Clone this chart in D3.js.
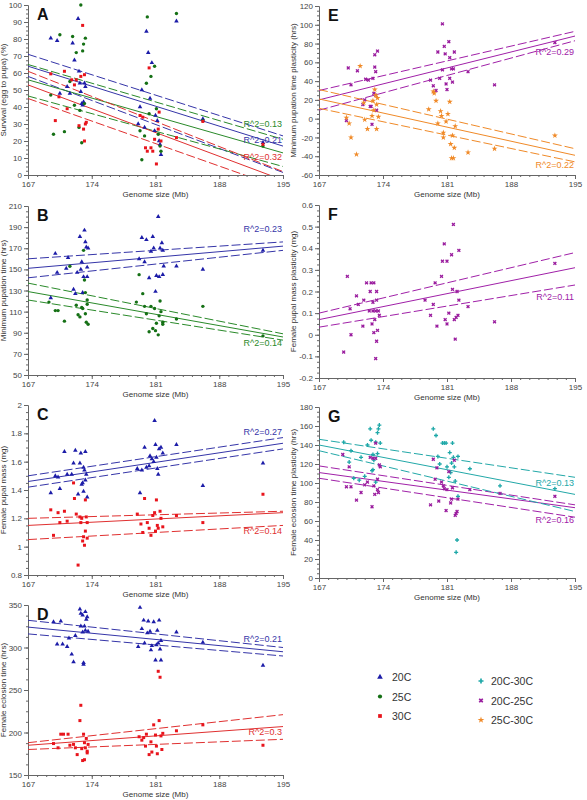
<!DOCTYPE html>
<html><head><meta charset="utf-8">
<script src="https://d3js.org/d3.v7.min.js"></script>
<style>body{margin:0;background:#fff}text{font-family:Arial,"Liberation Sans",sans-serif}</style>
</head><body><svg id="c" width="587" height="800"></svg>
<script>
const xTicks=[167,174,181,188,195];
const A_20C=[[169.5,80.5],[170.2,79],[170.5,48],[171.3,52],[171.6,48],[171.9,77.5],[172.1,67.5],[172.5,92],[172.6,61],[172.7,54],[172.8,49],[172.9,42],[173,41],[173.1,43],[173.2,54],[173.3,52],[179.1,30],[179.3,40],[179.5,50],[179.8,28],[180.0,84.5],[180.2,72],[180.4,45],[180.6,66],[180.9,26],[181.0,35],[181.2,32],[181.4,20],[181.5,18],[181.6,12],[183.3,90.5],[186.2,33],[192.8,19]];
const A_25C=[[169.5,47],[169.8,24],[170.5,82.5],[171,25.5],[171.6,55],[171.9,81.5],[172.1,41],[172.3,72],[172.6,28],[172.7,38],[172.8,100],[172.9,19],[173,73],[173.1,77],[173.3,80.5],[173.2,42],[179.3,26],[179.5,9],[179.8,23],[180.0,54],[180.1,93],[180.3,36],[180.5,58],[180.9,64],[181.1,39],[181.3,24],[181.5,17],[181.6,14],[183.3,95],[186.2,32],[192.8,17]];
const A_30C=[[169.5,59.5],[170,32],[170.4,46],[171,61],[171.3,39],[171.8,56],[172.1,53],[172.3,56],[172.6,29],[172.8,58],[173,88],[173.1,27],[173.2,20],[173.3,30],[173.4,31],[173.2,59],[179.3,35],[179.6,34],[179.9,16],[180.1,14],[180.3,63],[180.5,16],[180.7,14],[180.9,21],[181.1,6.5],[181.3,27],[181.4,37],[181.6,20],[183.3,22],[186.2,31.5],[192.8,18]];
const B_20C=[[169.5,123],[170,165],[170.2,147],[171.2,151],[171.4,161],[172,131],[172.2,127],[172.4,147],[172.7,181],[172.8,150],[172.9,157],[173,128],[173.1,143],[173.2,187],[173.3,176],[173.4,171],[173.5,152],[173.5,143],[173.6,170],[179.2,160],[179.5,180],[179.8,157],[180,178],[180.3,142],[180.5,167],[180.7,181],[180.8,170],[181,129],[181.1,144],[181.3,200],[181.4,143],[181.5,170],[181.7,175],[181.8,168],[181.9,153],[181.8,145],[183.3,153],[186.2,150],[192.8,168]];
const B_25C=[[169.3,119],[170,111],[170.3,111],[171,101],[171.6,153],[172.3,116],[172.5,107],[172.7,105],[172.9,114],[173,113],[173.1,168],[173.2,140],[173.3,108],[173.4,100],[173.6,98],[173.5,117],[173.5,121],[173.3,128],[178.9,119],[179.2,145],[179.6,127],[179.8,115],[180,108],[180.3,91],[180.5,115],[180.7,94],[180.9,113],[181,92],[181.1,99],[181.3,88],[181.4,106],[181.5,120],[181.6,110],[181.8,100],[181.8,98],[183.3,103],[186.2,115],[192.8,87]];
const C_20C=[[169.5,1.38],[170,1.50],[170.3,1.49],[170.5,1.41],[171,1.67],[171.3,1.51],[171.8,1.51],[172,1.59],[172.2,1.68],[172.5,1.37],[172.7,1.59],[172.8,1.66],[172.9,1.44],[173,1.45],[173.1,1.56],[173.1,1.39],[173.2,1.54],[173.3,1.67],[173.3,1.47],[173.4,1.51],[173.5,1.35],[179.0,1.55],[179.3,1.38],[179.5,1.54],[179.8,1.70],[180,1.56],[180.3,1.57],[180.4,1.64],[180.6,1.62],[180.8,1.60],[181,1.72],[181.1,1.63],[181.2,1.55],[181.3,1.51],[181.4,1.69],[180.9,1.89],[181.6,1.70],[181.8,1.66],[183.3,1.72],[186.2,1.43],[192.8,1.59]];
const C_30C=[[169.5,1.26],[169.8,1.08],[170.3,1.24],[170.5,1.17],[171,1.25],[171.3,1.18],[172,1.45],[172.1,1.34],[172.3,1.23],[172.5,0.87],[172.7,1.21],[172.8,1.17],[172.9,1.20],[173,1.04],[173.1,1.07],[173.2,1.01],[173.3,1.11],[173.3,1.33],[173.4,1.21],[173.5,1.17],[173.5,1.06],[179,1.23],[179.4,1.16],[179.6,1.10],[179.8,1.34],[180.1,1.17],[180.3,1.13],[180.5,1.08],[180.7,1.22],[180.9,1.24],[181,1.11],[181.1,1.33],[181.2,1.15],[181.3,1.13],[181.5,1.25],[181.6,1.20],[181.8,1.14],[183.3,1.22],[186.2,1.17],[192.8,1.37]];
const D_20C=[[169.8,330],[170.2,304],[170.6,331],[170.8,304],[171.3,301],[171.5,311],[171.8,292],[172,283],[172.2,314],[172.7,345],[172.8,325],[172.8,340],[173,338],[173,318],[173.1,280],[173.1,282],[173.2,325],[173.3,342],[173.3,320],[173.4,333],[173.5,336],[173.6,319],[179.1,301],[179.3,347],[179.5,322],[179.7,332],[179.8,305],[180.1,317],[180.2,331],[180.4,319],[180.5,297],[180.6,302],[180.8,330],[181,285],[181.1,303],[181.2,320],[181.3,305],[181.4,332],[181.5,298],[181.6,285],[181.6,308],[183.3,318],[186.2,306],[192.8,279]];
const D_30C=[[169.8,187],[170.3,182],[170.6,198],[170.9,198],[171.4,198],[171.6,185],[172,186],[172.2,182],[172.4,174],[172.7,214],[172.8,232],[172.9,181],[173,167],[173.1,198],[173.2,188],[173.2,168],[173.3,182],[173.4,193],[173.5,178],[173.5,176],[173.6,186],[179.2,195],[179.5,191],[179.7,194],[179.9,184],[180,198],[180.3,174],[180.5,189],[180.6,177],[180.8,209],[181,197],[181.1,184],[181.2,175],[181.3,272],[181.4,214],[181.5,265],[181.6,196],[181.7,180],[181.8,199],[183.3,202],[186.2,209],[192.8,185]];
const E_2025=[[170,-2],[170.2,54],[170.5,36],[171.2,51],[171.8,15],[172,20],[172.1,42],[172.4,41],[172.6,13],[172.7,13],[172.8,-6],[172.9,43],[173,27],[173.1,55],[173.1,68],[173.2,50],[173.3,9],[173.4,72],[173.2,25],[179.2,41],[179.5,35],[179.8,30],[180,71],[180.2,43],[180.5,52],[180.7,77],[180.8,69],[180.9,37],[181,31],[180.5,101],[181.2,82],[181.3,43],[181.3,65],[181.5,53],[181.6,39],[181.7,53],[181.8,71],[183.3,50],[186.2,36],[192.8,81]];
const E_2530=[[170,1],[170.3,-5],[170.5,-20],[171.1,-38],[171.5,56],[171.9,17],[172,-1],[172.3,-11],[172.8,3],[172.9,19],[173,9],[173.1,31],[173.2,25],[173.3,-11],[173.3,15],[173.5,2],[173.4,22],[179,10],[179.5,29],[179.6,27],[179.8,19],[180.0,-5],[180.3,8],[180.4,3],[180.6,-15],[180.6,-20],[180.9,-3],[181.1,5],[181.3,18],[181.4,-27],[181.5,-42],[181.6,-18],[181.7,-42],[181.8,-31],[181.9,-8],[183.3,-36],[186.2,-32],[192.8,-18]];
const F_2025=[[169.7,-0.08],[170.1,0.27],[170.4,0.12],[170.5,0.0],[171.1,0.18],[171.3,0.14],[171.8,0.04],[171.9,0.16],[172.2,0.24],[172.5,0.11],[172.6,0.2],[172.7,0.24],[172.8,0.05],[172.9,0.15],[172.9,0.11],[173,0.24],[173,0.01],[173.1,0.07],[173.2,0.11],[173.3,0.2],[173.3,0.16],[173.3,-0.03],[173.2,-0.11],[173.4,0.02],[173.5,0.11],[173.6,0.09],[178.6,0.16],[179.2,0.09],[179.5,0.14],[179.7,0.24],[179.9,0.04],[180.4,0.27],[180.5,0.34],[180.7,0.42],[180.8,0.07],[181,0.34],[181,0.05],[181.2,0.1],[181.5,0.37],[181.6,0.21],[181.7,0.51],[181.8,0.07],[181.9,-0.02],[182,0.08],[182.1,0.2],[182.2,0.09],[182.3,0.16],[182.3,0.39],[183.3,0.13],[186.2,0.06],[192.8,0.33]];
const G_2030=[[169.7,143],[170.3,122],[170.5,134],[170.8,105],[171.4,103],[171.6,127],[172.0,107],[172.3,140],[172.6,157],[172.7,145],[172.8,113],[172.9,114],[172.9,130],[173,124],[173.2,101],[173.2,143],[173.4,131],[173.4,153],[173.5,157],[173.6,161],[173.7,142],[179.5,157],[179.8,150],[180,128],[180.2,120],[180.5,142],[180.7,142],[180.9,142],[181,117],[181.2,106],[181.3,132],[181.4,111],[181.5,121],[181.6,142],[181.7,127],[181.8,117],[181.9,102],[182.2,128],[182,27],[182.1,40],[182.2,86],[183.5,115],[186.8,97],[192.8,94]];
const G_2025=[[169.6,130],[170,96],[170.3,117],[170.5,96],[171.1,82],[171.6,90],[172.0,98],[172.3,101],[172.6,127],[172.8,75],[172.9,126],[173.0,97],[173.1,88],[173.2,142],[173.2,126],[173.4,104],[173.4,93],[173.5,90],[173.6,119],[173.7,117],[179.2,77],[179.5,125],[179.7,104],[179.9,116],[180.1,81],[180.4,101],[180.6,97],[180.7,94],[180.9,71],[181,93],[181.2,112],[181.4,79],[181.5,83],[181.6,95],[181.8,124],[181.9,66],[182,68],[182.1,70],[182.2,83],[183.5,93],[186.8,89],[192.8,86]];
const A_fits={"20C":[[64,17],[71,23],[58,1.5]],"25C":[[56,13],[65,21],[46.5,5]],"30C":[[53,-3],[61,2],[45,-8]]};
const B_fits={"20C":[[151,172],[160,176],[142,168]],"25C":[[129,86],[137,89],[121,83]]};
const C_fits={"20C":[[1.46,1.73],[1.50,1.77],[1.42,1.69]],"30C":[[1.15,1.24],[1.20,1.25],[1.05,1.15]]};
const D_fits={"20C":[[324,295],[332,300],[316,290]],"30C":[[185,207],[188,221],[180,192]]};
const E_fits={"2025":[[20,88],[30,93],[9,83]],"2530":[[21,-39],[31,-32],[11,-46]]};
const F_fits={"2025":[[0.07,0.31],[0.10,0.38],[0.035,0.23]]};
const G_fits={"2030":[[140,88],[146,106],[134,70]],"2025":[[111,74],[118,77],[105,64]]};
const legendLeft=["20C","25C","30C"], legendRight=["20C-30C","20C-25C","25C-30C"];

const S={"20C":{c:"#1c1ca8",l:"#3535a8",sym:d3.symbolTriangle,rot:0},
"25C":{c:"#157015",l:"#2a8a2a",sym:d3.symbolCircle,rot:0},
"30C":{c:"#e8141c",l:"#e03030",sym:d3.symbolSquare,rot:0},
"2030":{c:"#1ea8a8",l:"#22a8a8",sym:d3.symbolCross,rot:0},
"2025":{c:"#9a1c9e",l:"#a020a8",sym:d3.symbolCross,rot:45},
"2530":{c:"#f08a28",l:"#f08a28",sym:d3.symbolStar,rot:0}};
const legKey={"20C-30C":"2030","20C-25C":"2025","25C-30C":"2530"};

const svg=d3.select("#c");
function panel(o){
  const x=d3.scaleLinear().domain([167,195]).range([o.x0,o.x1]);
  const y=d3.scaleLinear().domain(o.yd).range([o.y1,o.y0]);
  const g=svg.append("g");
  const cid="clip"+o.letter;
  g.append("clipPath").attr("id",cid).append("rect").attr("x",o.x0).attr("y",o.y0).attr("width",o.x1-o.x0).attr("height",o.y1-o.y0);
  const mx=d3.range(167,195.01,1);
  g.append("g").attr("transform",`translate(0,${o.y1})`).call(d3.axisBottom(x).tickValues(xTicks).tickSize(4).tickPadding(2).tickFormat(d3.format("d")));
  g.append("g").attr("transform",`translate(0,${o.y1})`).call(d3.axisBottom(x).tickValues(mx).tickSize(2).tickFormat("")).select(".domain").remove();
  g.append("g").attr("transform",`translate(${o.x0},0)`).call(d3.axisLeft(y).tickValues(o.yt).tickSize(4).tickPadding(2).tickFormat(o.fmt||(d=>d)));
  const step=(o.yt[1]-o.yt[0])/4;
  g.append("g").attr("transform",`translate(${o.x0},0)`).call(d3.axisLeft(y).tickValues(d3.range(o.yd[0],o.yd[1]+step/2,step)).tickSize(2).tickFormat("")).select(".domain").remove();
  g.selectAll(".domain").attr("stroke","#666");
  g.selectAll(".tick line").attr("stroke","#666");
  g.selectAll(".tick text").attr("fill","#444").style("font-size","8px");
  g.append("text").attr("x",(o.x0+o.x1)/2).attr("y",o.y1+22).attr("text-anchor","middle").style("font-size","8px").attr("fill","#333").text("Genome size (Mb)");
  g.append("text").attr("transform",`translate(${o.ylx},${(o.y0+o.y1)/2}) rotate(-90)`).attr("text-anchor","middle").style("font-size","8px").attr("fill","#333").text(o.ylab);
  g.append("text").attr("x",o.x0+9).attr("y",o.y0+15).style("font-size","16px").style("font-weight","bold").attr("fill","#111").text(o.letter);
  const lg=g.append("g").attr("clip-path",`url(#${cid})`);
  for(const k in o.fits){
    o.fits[k].forEach((f,i)=>{
      lg.append("line").attr("x1",x(167)).attr("x2",x(195)).attr("y1",y(f[0])).attr("y2",y(f[1]))
        .attr("stroke",S[k].l).attr("stroke-width",1).attr("stroke-dasharray",i?"9,3":null);
    });
  }
  o.series.forEach(([k,data])=>{
    g.selectAll(null).data(data).join("path")
      .attr("d",d3.symbol(S[k].sym,k==="2530"?11:9))
      .attr("transform",d=>`translate(${x(d[0])},${y(d[1])}) rotate(${S[k].rot})`)
      .attr("fill",S[k].c);
  });
  o.labels.forEach(([k,t,v])=>{
    g.append("text").attr("x",o.x1-1).attr("y",y(v)).attr("text-anchor","end").style("font-size","9px").attr("fill",S[k].l).text(t);
  });
}
const L={x0:28,x1:283,ylx:6}, R={x0:319,x1:575,ylx:296};
panel({...L,y0:5,y1:175,yd:[0,100],yt:d3.range(0,101,10),letter:"A",ylab:"Survival (egg to pupa) (%)",
  fits:A_fits,series:[["20C",A_20C],["25C",A_25C],["30C",A_30C]],labels:[["25C","R^2=0.13",28],["20C","R^2=0.21",19],["30C","R^2=0.32",9]]});
panel({...L,y0:206,y1:375,yd:[50,210],yt:d3.range(50,211,20),letter:"B",ylab:"Minimum pupation time (hrs)",
  fits:B_fits,series:[["20C",B_20C],["25C",B_25C]],labels:[["20C","R^2=0.23",185],["25C","R^2=0.14",77]]});
panel({...L,y0:405,y1:575,yd:[0.8,2],yt:d3.range(0.8,2.01,0.2),fmt:d=>+d.toFixed(1),letter:"C",ylab:"Female pupal mass (mg)",
  fits:C_fits,series:[["20C",C_20C],["30C",C_30C]],labels:[["20C","R^2=0.27",1.79],["30C","R^2=0.14",1.09]]});
panel({...L,y0:605,y1:775,yd:[150,350],yt:d3.range(150,351,50),letter:"D",ylab:"Female eclosion time (hrs)",
  fits:D_fits,series:[["20C",D_20C],["30C",D_30C]],labels:[["20C","R^2=0.21",307],["30C","R^2=0.3",197]]});
panel({...R,y0:6,y1:175,yd:[-60,120],yt:d3.range(-60,121,20),letter:"E",ylab:"Minimum pupation time plasticity (hrs)",
  fits:E_fits,series:[["2025",E_2025],["2530",E_2530]],labels:[["2025","R^2=0.29",68],["2530","R^2=0.22",-53]]});
panel({...R,y0:205,y1:378,yd:[-0.2,0.6],yt:d3.range(-0.2,0.61,0.1),fmt:d=>+d.toFixed(1),letter:"F",ylab:"Female pupal mass plasticity (mg)",
  fits:F_fits,series:[["2025",F_2025]],labels:[["2025","R^2=0.11",0.16]]});
panel({...R,y0:407,y1:578,yd:[0,180],yt:d3.range(0,181,20),letter:"G",ylab:"Female eclosion time plasticity (hrs)",
  fits:G_fits,series:[["2030",G_2030],["2025",G_2025]],labels:[["2030","R^2=0.13",97],["2025","R^2=0.16",58]]});
const lg=svg.append("g");
legendLeft.forEach((k,i)=>{
  const yy=677+i*19.5;
  lg.append("path").attr("d",d3.symbol(S[k].sym,14)).attr("transform",`translate(380,${yy})`).attr("fill",S[k].c);
  lg.append("text").attr("x",392).attr("y",yy+4).style("font-size","10.5px").attr("fill","#333").text(k);
});
legendRight.forEach((t,i)=>{
  const k=legKey[t], yy=681+i*19.5;
  lg.append("path").attr("d",d3.symbol(S[k].sym,14)).attr("transform",`translate(481,${yy}) rotate(${S[k].rot})`).attr("fill",S[k].c);
  lg.append("text").attr("x",491).attr("y",yy+4).style("font-size","10.5px").attr("fill","#333").text(t);
});
</script></body></html>
